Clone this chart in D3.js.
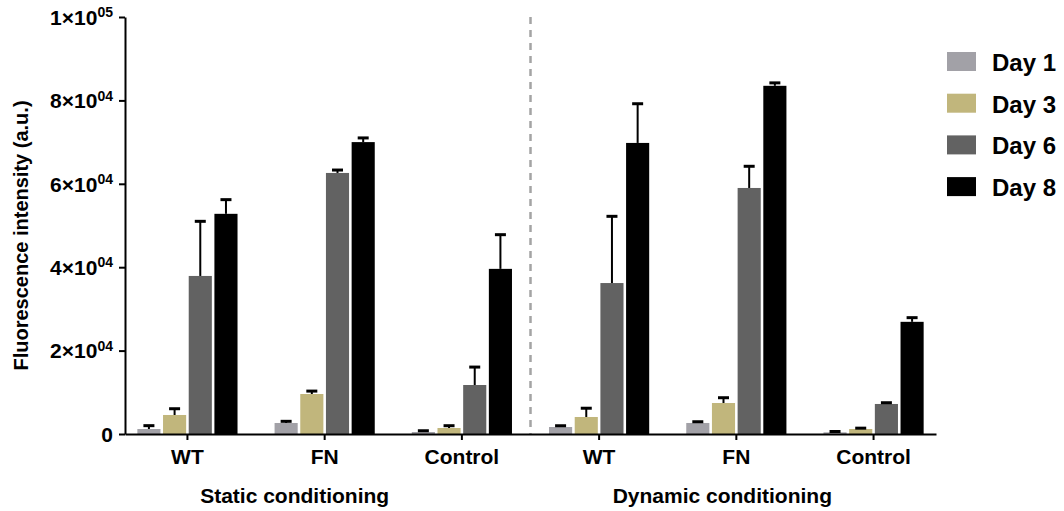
<!DOCTYPE html>
<html>
<head>
<meta charset="utf-8">
<script src="https://cdn.jsdelivr.net/npm/d3@7"></script>
<style>
  body { margin: 0; background: #fff; }
  text { font-family: Arial, "Liberation Sans", sans-serif; font-weight: bold; }
</style>
</head>
<body>
<script>
(()=>{
    const width = 1064;
    const height = 511;
    const marginLeft = 125;
    const axisRight = 936;
    const yTop = 17;
    const yBottom = 434;

    // categories along x (static first, then dynamic)
    const categories = ["S-WT", "S-FN", "S-Control", "D-WT", "D-FN", "D-Control"];
    const categoryLabels = ["WT", "FN", "Control", "WT", "FN", "Control"];
    const days = ["Day 1", "Day 3", "Day 6", "Day 8"];
    const colors = ["#a2a1a7", "#c1b67c", "#626262", "#000000"];

    // mean values per day, one entry per category
    const day1 = [1200, 2640, 480, 1680, 2640, 400];
    const day3 = [4560, 9590, 1440, 4080, 7430, 1200];
    const day6 = [37900, 62600, 11750, 36200, 59000, 7200];
    const day8 = [52800, 70000, 39600, 69800, 83500, 26900];

    // upper error (SD) per day
    const err1 = [800, 400, 300, 300, 300, 200];
    const err3 = [1500, 700, 550, 2100, 1270, 200];
    const err6 = [13100, 700, 4300, 16000, 5200, 300];
    const err8 = [3400, 1000, 8200, 9400, 700, 1000];

    const yTicks = [0, 20000, 40000, 60000, 80000, 100000];
    const yTickLabels = [["0", ""], ["2×10", "04"], ["4×10", "04"], ["6×10", "04"], ["8×10", "04"], ["1×10", "05"]];

    const groups = ["Static conditioning", "Dynamic conditioning"];

    const values = [day1, day3, day6, day8];
    const errors = [err1, err3, err6, err8];

    const data = [];
    categories.forEach((c, i) => {
        days.forEach((d, j) => {
            data.push({cat: c, day: d, value: values[j][i], err: errors[j][i]});
        });
    });

    const x0 = d3.scaleBand()
        .domain(categories)
        .range([marginLeft, axisRight])
        .paddingInner(0.27)
        .paddingOuter(0.09);

    const x1 = d3.scaleBand()
        .domain(days)
        .range([0, x0.bandwidth()])
        .paddingInner(0.1);

    const y = d3.scaleLinear()
        .domain([0, 100000])
        .range([yBottom, yTop]);

    const color = d3.scaleOrdinal().domain(days).range(colors);

    const svg = d3.create("svg")
        .attr("width", width)
        .attr("height", height)
        .attr("viewBox", [0, 0, width, height]);

    // dashed separator between static and dynamic
    const sepX = (x0("S-Control") + x0.bandwidth() / 2 + x0("D-WT") + x0.bandwidth() / 2) / 2;
    svg.append("line")
        .attr("x1", sepX).attr("x2", sepX)
        .attr("y1", y(100000)).attr("y2", y(0))
        .attr("stroke", "#a4a4a4")
        .attr("stroke-width", 2.5)
        .attr("stroke-dasharray", "7,6");

    // bars
    svg.append("g")
        .selectAll("rect")
        .data(data)
        .join("rect")
        .attr("x", d => x0(d.cat) + x1(d.day))
        .attr("y", d => y(d.value))
        .attr("width", x1.bandwidth())
        .attr("height", d => y(0) - y(d.value))
        .attr("fill", d => color(d.day));

    // error bars (upper only)
    const eb = svg.append("g").attr("stroke", "#000");
    eb.selectAll("line.stem")
        .data(data)
        .join("line")
        .attr("class", "stem")
        .attr("x1", d => x0(d.cat) + x1(d.day) + x1.bandwidth() / 2)
        .attr("x2", d => x0(d.cat) + x1(d.day) + x1.bandwidth() / 2)
        .attr("y1", d => y(d.value))
        .attr("y2", d => y(d.value + d.err))
        .attr("stroke-width", 2);
    eb.selectAll("line.cap")
        .data(data)
        .join("line")
        .attr("class", "cap")
        .attr("x1", d => x0(d.cat) + x1(d.day) + x1.bandwidth() / 2 - 5.5)
        .attr("x2", d => x0(d.cat) + x1(d.day) + x1.bandwidth() / 2 + 5.5)
        .attr("y1", d => y(d.value + d.err))
        .attr("y2", d => y(d.value + d.err))
        .attr("stroke-width", 3);

    // y axis
    const gy = svg.append("g")
        .attr("transform", `translate(${marginLeft},0)`)
        .call(d3.axisLeft(y).tickValues(yTicks).tickSize(6).tickSizeOuter(0).tickPadding(6));
    gy.select(".domain").attr("stroke-width", 2);
    gy.selectAll(".tick line").attr("stroke-width", 2);
    gy.selectAll(".tick text")
        .attr("font-size", 21)
        .attr("fill", "#000")
        .attr("dy", "0.35em")
        .each(function(d, i) {
            const t = d3.select(this).text(null);
            const [base, sup] = yTickLabels[i];
            t.append("tspan").text(base);
            if (sup) {
                t.append("tspan").attr("font-size", 14).attr("dy", "-0.55em").text(sup);
            }
        });

    // x axis
    const gx = svg.append("g")
        .attr("transform", `translate(0,${yBottom})`)
        .call(d3.axisBottom(x0).tickSize(6).tickSizeOuter(0).tickPadding(6)
            .tickFormat((d, i) => categoryLabels[i]));
    gx.select(".domain").attr("stroke-width", 2);
    gx.selectAll(".tick line").attr("stroke-width", 2);
    gx.selectAll(".tick text").attr("font-size", 21).attr("fill", "#000").attr("dy", "0.85em");

    // group labels
    const groupCenters = [x0("S-FN") + x0.bandwidth() / 2 - 30, x0("D-FN") + x0.bandwidth() / 2 - 14];
    svg.append("g")
        .selectAll("text")
        .data(groups)
        .join("text")
        .attr("x", (d, i) => groupCenters[i])
        .attr("y", 503)
        .attr("text-anchor", "middle")
        .attr("font-size", 21)
        .text(d => d);

    // y axis title
    svg.append("text")
        .attr("transform", `translate(28,${(yTop + yBottom) / 2 + 10}) rotate(-90)`)
        .attr("text-anchor", "middle")
        .attr("font-size", 20)
        .text("Fluorescence intensity (a.u.)");

    // legend
    const legend = svg.append("g")
        .selectAll("g")
        .data(days)
        .join("g")
        .attr("transform", (d, i) => `translate(947,${52 + i * 41.7})`);
    legend.append("rect")
        .attr("width", 29)
        .attr("height", 19)
        .attr("fill", d => color(d));
    legend.append("text")
        .attr("x", 45)
        .attr("y", 19)
        .attr("font-size", 24)
        .text(d => d);

    d3.select("body").append(() => svg.node());
})()
</script>
</body>
</html>
